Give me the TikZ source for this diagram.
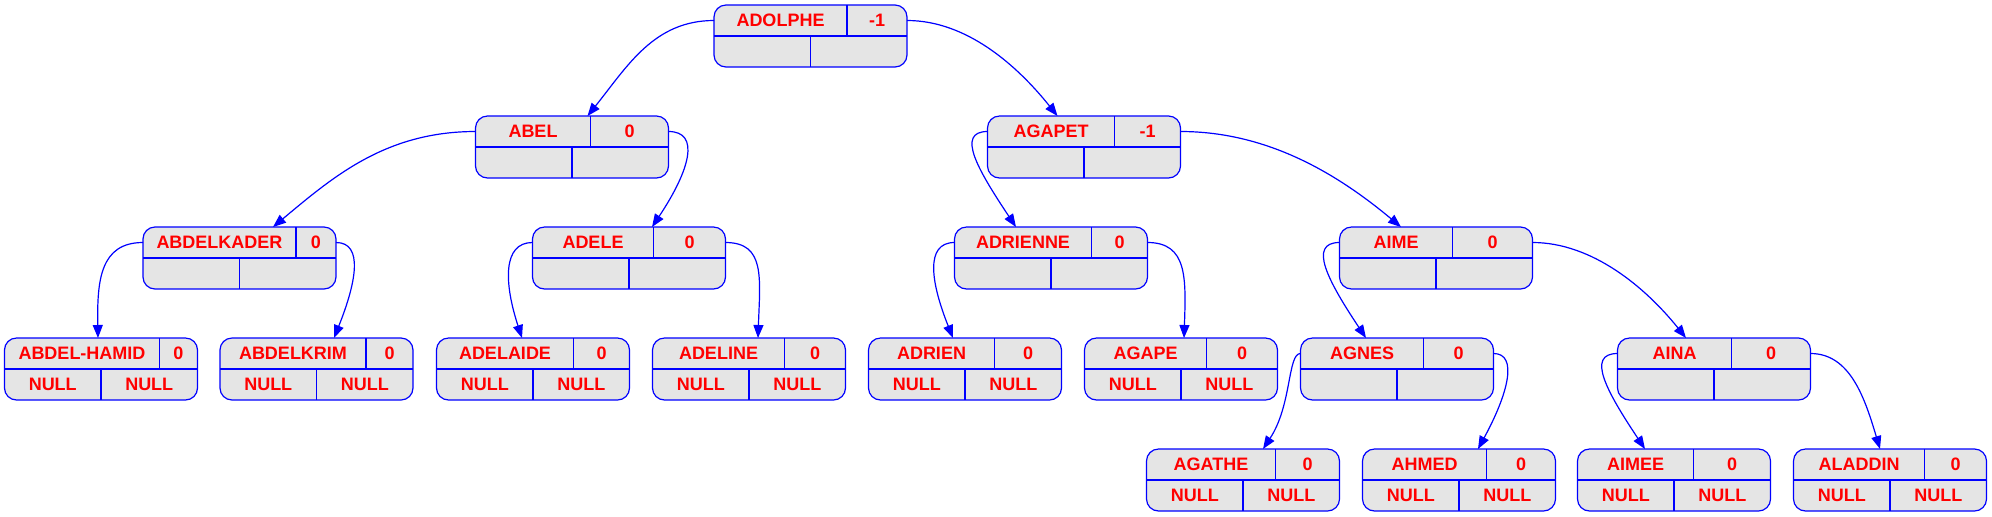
\documentclass[tikz,border=0pt]{standalone}
\usepackage{fontspec}
\setmainfont{Liberation Sans}
\usetikzlibrary{calc,arrows.meta}
\definecolor{recfill}{HTML}{E5E5E5}
\tikzset{
  rec/.style={draw=blue, fill=recfill, rounded corners=6pt, line width=0.6pt, minimum width=96.5pt, minimum height=31pt, inner sep=0pt, outer sep=0pt},
  sepline/.style={draw=blue, line width=0.6pt},
  lbl/.style={text=red, font=\bfseries\fontsize{9}{10}\selectfont, inner sep=0pt},
  conn/.style={draw=blue, line width=0.6pt, -{Triangle[length=6.5pt,width=5pt]}},
}
% name, cx, ytop, divider offset, label, balance, bottom-left, bottom-right
\newcommand\recnode[8]{%
  \node[rec] (#1) at (#2,#3+31) {};
  \draw[sepline] (#1.west) -- (#1.east);
  \draw[sepline] ($(#1.north west)+(#4,0)$) -- ($(#1.west)+(#4,0)$);
  \draw[sepline] (#1.center) -- (#1.south);
  \node[lbl] at ($(#1.north west)+(#4/2,15.5)$) {#5};
  \node[lbl] at ($(#1.north west)+({(193+#4)/2},15.5)$) {#6};
  \node[lbl] at ($(#1.west)+(48.25,15.5)$) {#7};
  \node[lbl] at ($(#1.west)+(144.75,15.5)$) {#8};
  \coordinate (#1-l) at ($(#1.north west)+(0,15.5)$);
  \coordinate (#1-r) at ($(#1.north east)+(0,15.5)$);
}
% from coordinate, to node, end offset, c1 offset, c2 offset
\newcommand\link[5]{%
  \draw[conn] (#1) .. controls ($(#1)+(#4)$) and ($(#2.north west)+(#3,0)+(#5)$) .. ($(#2.north west)+(#3,0)$);
}
\begin{document}
\begin{tikzpicture}[x=0.5pt,y=-0.5pt]
\useasboundingbox (0,0) rectangle (1992,516);
% level 0
\recnode{adolphe}{810.5}{5}{133}{ADOLPHE}{-1}{}{}
% level 1
\recnode{abel}{572}{116}{115}{ABEL}{0}{}{}
\recnode{agapet}{1084}{116}{127}{AGAPET}{-1}{}{}
% level 2
\recnode{abdelkader}{239.5}{227}{153}{ABDELKADER}{0}{}{}
\recnode{adele}{629}{227}{121}{ADELE}{0}{}{}
\recnode{adrienne}{1051}{227}{137}{ADRIENNE}{0}{}{}
\recnode{aime}{1436}{227}{113}{AIME}{0}{}{}
% level 3
\recnode{abdelhamid}{101}{338}{155}{ABDEL-HAMID}{0}{NULL}{NULL}
\recnode{abdelkrim}{316.5}{338}{146}{ABDELKRIM}{0}{NULL}{NULL}
\recnode{adelaide}{533}{338}{137}{ADELAIDE}{0}{NULL}{NULL}
\recnode{adeline}{749}{338}{132}{ADELINE}{0}{NULL}{NULL}
\recnode{adrien}{965}{338}{126}{ADRIEN}{0}{NULL}{NULL}
\recnode{agape}{1181}{338}{122}{AGAPE}{0}{NULL}{NULL}
\recnode{agnes}{1397}{338}{123}{AGNES}{0}{}{}
\recnode{aina}{1714}{338}{114}{AINA}{0}{}{}
% level 4
\recnode{agathe}{1243}{449}{129}{AGATHE}{0}{NULL}{NULL}
\recnode{ahmed}{1459}{449}{124}{AHMED}{0}{NULL}{NULL}
\recnode{aimee}{1674}{449}{116}{AIMEE}{0}{NULL}{NULL}
\recnode{aladdin}{1890}{449}{131}{ALADDIN}{0}{NULL}{NULL}
% edges
\link{adolphe-l}{abel}{112}{-60,0}{40,-50}
\link{adolphe-r}{agapet}{70}{60,0}{-40,-50}
\link{abel-l}{abdelkader}{130}{-90,0}{60,-50}
\link{abel-r}{adele}{119.5}{32,0}{38,-57}
\link{agapet-l}{adrienne}{61.5}{-32,0}{-38,-57}
\link{agapet-r}{aime}{61.5}{90,0}{-60,-50}
\link{abdelkader-l}{abdelhamid}{93.5}{-43,0}{-1,-57}
\link{abdelkader-r}{abdelkrim}{114}{28,0}{22,-55}
\link{adele-l}{adelaide}{85.5}{-30,0}{-18,-55}
\link{adele-r}{adeline}{105.5}{40,0}{2,-60}
\link{adrienne-l}{adrien}{84.5}{-30,0}{-22,-55}
\link{adrienne-r}{agape}{99.5}{40,0}{2,-60}
\link{aime-l}{agnes}{65.5}{-32,0}{-38,-57}
\link{aime-r}{aina}{68.5}{60,0}{-40,-50}
\link{agnes-l}{agathe}{116.5}{-13,0}{29,-44}
\link{agnes-r}{ahmed}{115.5}{25,0}{30,-55}
\link{aina-l}{aimee}{67.5}{-32,0}{-38,-57}
\link{aina-r}{aladdin}{86.5}{40,0}{-15,-50}
\end{tikzpicture}
\end{document}
